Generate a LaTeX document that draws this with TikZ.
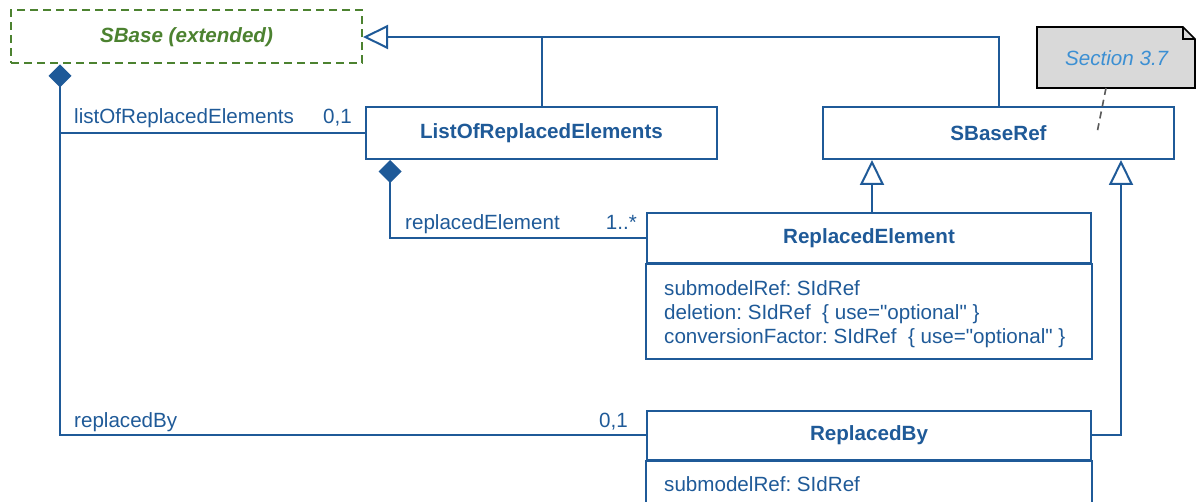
\documentclass[tikz,border=0pt]{standalone}
\usepackage{fontspec}
\setmainfont{Liberation Sans}
\usetikzlibrary{arrows.meta}
\definecolor{umlblue}{HTML}{1F5A98}
\definecolor{sbgreen}{HTML}{4C8230}
\definecolor{notegray}{HTML}{D9D9D9}
\definecolor{notetext}{HTML}{3B8FD3}
\newcommand{\umlsize}{\fontsize{20.6}{24}\selectfont}
\newcommand{\qt}{\textquotedbl}
\frenchspacing

\begin{document}
\begin{tikzpicture}[x=1pt,y=-1pt,
  classbox/.style={draw=umlblue,line width=2pt,fill=white,inner sep=0pt,
    text=umlblue,font=\umlsize\bfseries,minimum width=351pt,minimum height=52pt},
  wideclass/.style={classbox,minimum width=444pt,minimum height=50pt},
  attrtext/.style={text=umlblue,align=left,inner sep=0pt,anchor=north west},
  lbl/.style={text=umlblue,inner sep=0pt},
  conn/.style={draw=umlblue,line width=2pt},
  comp/.style={conn,{Diamond[length=23pt,width=23pt]}-},
  gen/.style={conn,-{Triangle[open,length=25pt,width=24pt]}}]
\useasboundingbox (0,0) rectangle (1197,502);
\clip (0,0) rectangle (1197,502);

\begin{scope}[font=\umlsize]

% classes
\node[classbox,draw=sbgreen,text=sbgreen,dashed,dash pattern=on 8pt off 5pt,
  minimum height=53pt] (sbase) at (186.5,37) {\textit{SBase (extended)}};
\node[classbox] (lore) at (541.5,133) {ListOfReplacedElements};
\node[classbox] (sbaseref) at (998.5,133) {SBaseRef};

\node[wideclass] (replel) at (869,238) {ReplacedElement};
\draw[conn] (replel.south west) rectangle ([yshift=-95pt]replel.south east);
\node[attrtext] (replelattr) at ([shift={(18pt,-16pt)}]replel.south west)
  {submodelRef: SIdRef\\deletion: SIdRef~ \{ use=\qt optional\qt\ \}\\conversionFactor: SIdRef~ \{ use=\qt optional\qt\ \}};

\node[wideclass,minimum height=49pt] (replby) at (869,435.5) {ReplacedBy};
\draw[conn] (replby.south west) rectangle ([yshift=-80pt]replby.south east);
\node[attrtext] (replbyattr) at ([shift={(18pt,-15pt)}]replby.south west) {submodelRef: SIdRef};

% note
\draw[black,line width=1.6pt,fill=notegray] (1037,27) -- (1183,27) -- (1195,39) -- (1195,88) -- (1037,88) -- cycle;
\draw[black,line width=1.3pt] (1183,27) -- (1183,39) -- (1195,39);
\node[text=notetext,inner sep=0pt] (note) at (1117,58) {\textit{Section 3.7}};
\coordinate (notefoot) at (1106,88);
\coordinate (noteend) at (1097,133);
\draw[gray!70!black,line width=1.6pt,dashed,dash pattern=on 7pt off 5pt] (notefoot) -- (noteend);

% generalizations
\draw[gen] (sbaseref.north) |- (sbase.east);
\draw[conn] (lore.north) -- (lore.north |- sbase.east);
\coordinate (gleft) at ([xshift=50pt]sbaseref.south west);
\coordinate (gright) at ([xshift=-54pt]sbaseref.south east);
\draw[gen] (replel.north -| gleft) -- (gleft);
\draw[gen] (replby.east) -| (gright);

% compositions
\coordinate (sbdia) at ([xshift=50pt]sbase.south west);
\draw[comp] (sbdia) |- (replby.west);
\draw[conn] (lore.west -| sbdia) -- (lore.west);
\coordinate (lodia) at ([xshift=25pt]lore.south west);
\draw[comp] (lodia) |- (replel.west);

% role names and multiplicities
\node[lbl,anchor=base west] (rlore) at (74,124) {listOfReplacedElements};
\node[lbl,anchor=base east] (mlore) at (352,124) {0,1};
\node[lbl,anchor=base west] (rrepl) at (405,230) {replacedElement};
\node[lbl,anchor=base east] (mrepl) at (637,230) {1..*};
\node[lbl,anchor=base west] (rrby) at (74,428) {replacedBy};
\node[lbl,anchor=base east] (mrby) at (628,428) {0,1};

\end{scope}
\end{tikzpicture}
\end{document}
